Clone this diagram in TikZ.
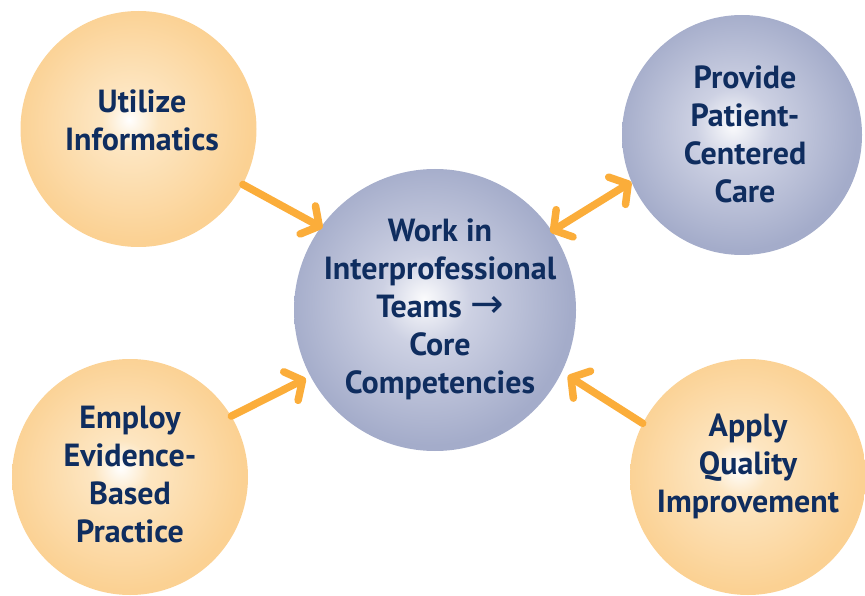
\documentclass[tikz,border=0pt]{standalone}
\usepackage{fontspec}
\setmainfont{PT Sans}
\newfontfamily\arrowfont{DejaVu Sans}
\usetikzlibrary{arrows.meta}
\definecolor{orgedge}{HTML}{FBD193}
\definecolor{orgmid}{HTML}{FDE6C2}
\definecolor{bluedge}{HTML}{A4ACCA}
\definecolor{blumid}{HTML}{CDD1E3}
\definecolor{navy}{HTML}{0F2D5F}
\definecolor{arrorange}{HTML}{FBAD3A}
\pgfdeclareradialshading{orangeball}{\pgfpoint{-2bp}{2bp}}{color(0bp)=(white); color(6bp)=(orgmid); color(25bp)=(orgedge); color(50bp)=(orgedge)}
\pgfdeclareradialshading{blueball}{\pgfpoint{-2bp}{2bp}}{color(0bp)=(white!95!bluedge); color(8bp)=(blumid); color(25bp)=(bluedge); color(50bp)=(bluedge)}
\begin{document}
\begin{tikzpicture}[x=1pt,y=-1pt,
  ball/.style={circle, inner sep=0pt},
  oball/.style={ball, shading=orangeball},
  bball/.style={ball, shading=blueball},
  txt/.style={text=navy, align=center, inner sep=0pt,
    font=\fontsize{32}{38}\selectfont\bfseries},
  conn/.style={line width=7.5pt, draw=arrorange, line cap=round,
    -{Straight Barb[length=13pt, width=32pt, round]}},
  dconn/.style={conn, {Straight Barb[length=13pt, width=32pt, round]}-{Straight Barb[length=13pt, width=32pt, round]}}
]
\useasboundingbox (0,0) rectangle (865,596);
\node[oball, minimum size=236pt] (tl) at (138.5,129) {};
\node[bball, minimum size=240pt] (tr) at (742,135) {};
\node[bball, minimum size=282pt] (c) at (435,310) {};
\node[oball, minimum size=236pt] (bl) at (130,477) {};
\node[oball, minimum size=236pt] (br) at (748,477) {};
\node[txt] (tlt) at (142,120) {Utilize\\Informatics};
\node[txt] (trt) at (745,134) {Provide\\Patient-\\Centered\\Care};
\node[txt] (ct) at (440,309) {Work in\\Interprofessional\\Teams {\smash{\arrowfont\mdseries\fontsize{40}{38}\selectfont →}}\\Core\\Competencies};
\node[txt] (blt) at (130,475) {Employ\\Evidence-\\Based\\Practice};
\node[txt] (brt) at (748,466) {Apply\\Quality\\Improvement};
\draw[conn, shorten >=-2pt] (tl.-28.5) -- (c.144);
\draw[dconn, shorten <=-2pt] (c.34.8) -- (tr.203.2);
\draw[conn, shorten >=5pt] (bl.31.4) -- (c.208.3);
\draw[conn, shorten >=7pt] (br.153.4) -- (c.-26.7);
\end{tikzpicture}
\end{document}
